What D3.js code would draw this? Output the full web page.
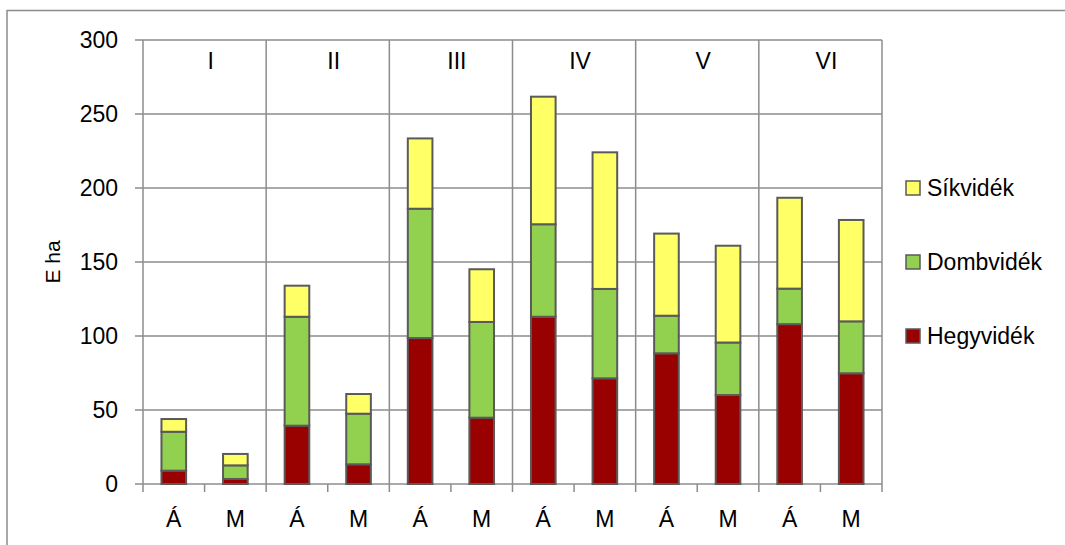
<!DOCTYPE html>
<html lang="hu">
<head>
<meta charset="utf-8">
<title>E ha</title>
<script src="https://cdn.jsdelivr.net/npm/d3@7"></script>
<style>
  body { margin: 0; background: #fff; }
  text { font-family: "Liberation Sans", Arial, sans-serif; fill: #000; }
  .tick-label { font-size: 23px; }
  .grid { stroke: #8c8c8c; stroke-width: 1.5px; }
  .bar { stroke: #5a5a5a; stroke-width: 2px; }
</style>
</head>
<body>
<script>
// data
var groups = ["I", "II", "III", "IV", "V", "VI"];
var categories = ["Á", "M", "Á", "M", "Á", "M", "Á", "M", "Á", "M", "Á", "M"];
var hegyvidek = [9, 3.4, 39.4, 13.3, 98.6, 44.8, 113, 71.4, 88.3, 60.1, 108, 74.8];
var dombvidek = [26.3, 9.2, 73.6, 34.2, 87.4, 64.7, 62.5, 60.4, 25.4, 35.5, 24, 35.1];
var sikvidek = [8.6, 7.7, 21, 13.3, 47.5, 35.6, 86.2, 92.3, 55.5, 65.4, 61.4, 68.5];
var seriesNames = ["Hegyvidék", "Dombvidék", "Síkvidék"];
var seriesColors = ["#990000", "#92d050", "#ffff66"];
var yTicks = [0, 50, 100, 150, 200, 250, 300];

var w = 1065, h = 545;
var padL = 143, padR = 882, padT = 40, padB = 484;

var svg = d3.select("body").append("svg").attr("width", w).attr("height", h);

// outer frame (right/bottom edges run past the picture)
svg.append("rect").attr("x", 7).attr("y", 10.5).attr("width", 1100).attr("height", 600)
   .attr("fill", "none").attr("stroke", "#8c8c8c").attr("stroke-width", 1.5);

var idx = d3.range(categories.length);
var x = d3.scaleBand().domain(idx).range([padL, padR]);
var y = d3.scaleLinear().domain([0, 300]).range([padB, padT]);

var table = idx.map(function(i) {
  return {i: i, "Hegyvidék": hegyvidek[i], "Dombvidék": dombvidek[i], "Síkvidék": sikvidek[i]};
});
var stacked = d3.stack().keys(seriesNames)(table);

function edge(d) { return d < categories.length ? x(d) : padR; }

// horizontal grid
svg.append("g").selectAll("line").data(yTicks).enter().append("line")
   .attr("class", "grid")
   .attr("x1", padL - 8).attr("x2", padR)
   .attr("y1", function(d) { return y(d); }).attr("y2", function(d) { return y(d); });

// vertical group lines
var groupEdges = d3.range(groups.length + 1).map(function(g) { return g * 2; });
svg.append("g").selectAll("line").data(groupEdges).enter().append("line")
   .attr("class", "grid")
   .attr("x1", edge).attr("x2", edge)
   .attr("y1", padT).attr("y2", padB);

// x ticks at category boundaries
svg.append("g").selectAll("line").data(d3.range(categories.length + 1)).enter().append("line")
   .attr("class", "grid")
   .attr("x1", edge).attr("x2", edge)
   .attr("y1", padB).attr("y2", padB + 8);

// bars
var bw = x.bandwidth() * 0.4;
svg.append("g").selectAll("g").data(stacked).enter().append("g")
   .attr("fill", function(d, i) { return seriesColors[i]; })
   .selectAll("rect").data(function(d) { return d; }).enter().append("rect")
   .attr("class", "bar")
   .attr("x", function(d) { return x(d.data.i) + (x.bandwidth() - bw) / 2; })
   .attr("width", bw)
   .attr("y", function(d) { return y(d[1]); })
   .attr("height", function(d) { return y(d[0]) - y(d[1]); });

// y tick labels
svg.append("g").selectAll("text").data(yTicks).enter().append("text")
   .attr("class", "tick-label")
   .attr("x", 118).attr("y", function(d) { return y(d); })
   .attr("text-anchor", "end").attr("dominant-baseline", "central")
   .text(function(d) { return d; });

// category labels
svg.append("g").selectAll("text").data(idx).enter().append("text")
   .attr("class", "tick-label")
   .attr("x", function(d) { return x(d) + x.bandwidth() / 2; })
   .attr("y", 527).attr("text-anchor", "middle")
   .text(function(d) { return categories[d]; });

// group labels
svg.append("g").selectAll("text").data(groups).enter().append("text")
   .attr("class", "tick-label")
   .attr("x", function(d, g) { return x(g * 2) + x.bandwidth() + 6; })
   .attr("y", 69).attr("text-anchor", "middle")
   .text(function(d) { return d; });

// y axis title
svg.append("text")
   .attr("transform", "translate(60,262) rotate(-90)")
   .attr("text-anchor", "middle").attr("font-size", "21px")
   .text("E ha");

// legend
var legOrder = [2, 1, 0];
var leg = svg.append("g").selectAll("g").data(legOrder).enter().append("g")
   .attr("transform", function(d, k) { return "translate(906," + (188 + k * 74) + ")"; });
leg.append("rect").attr("x", 0).attr("y", -7).attr("width", 14).attr("height", 14)
   .attr("fill", function(d) { return seriesColors[d]; })
   .attr("stroke", "#5a5a5a").attr("stroke-width", 1.5);
leg.append("text").attr("class", "tick-label")
   .attr("x", 21).attr("y", 0).attr("dominant-baseline", "central")
   .text(function(d) { return seriesNames[d]; });
</script>
</body>
</html>
